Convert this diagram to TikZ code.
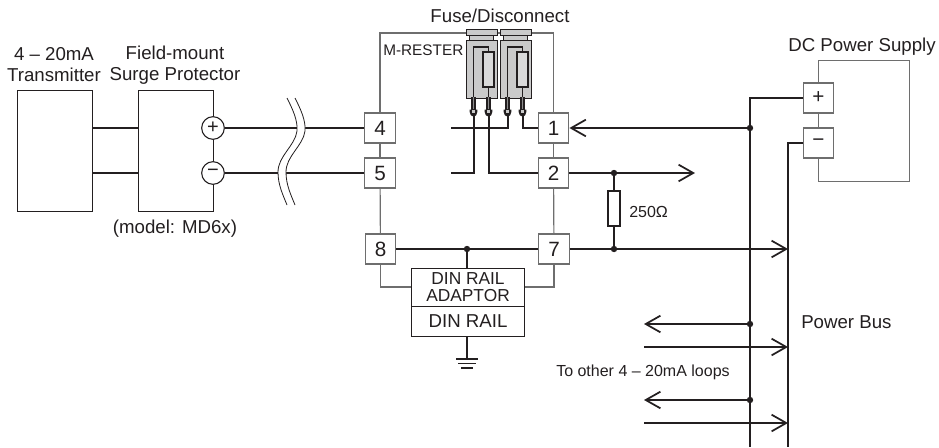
\documentclass[tikz,border=0pt]{standalone}
\usepackage{fontspec}
\setmainfont{Liberation Sans}
\usetikzlibrary{arrows.meta,positioning}
\definecolor{ink}{HTML}{231F20}
\definecolor{frame}{HTML}{6E6E6E}
\definecolor{fusegray}{HTML}{CACACA}
\tikzset{
  wire/.style={draw=ink,line width=1.5pt},
  graywire/.style={draw=frame,line width=.9pt},
  openarrow/.style={-{Straight Barb[length=11pt,width=12.5pt,line width=1.3pt]}},
  plainbox/.style={draw=ink,line width=.8pt,fill=white,inner sep=0pt,anchor=north west},
  term/.style={draw=frame,line width=.9pt,fill=white,inner sep=0pt,minimum width=23pt,minimum height=22.5pt,font=\fontsize{15.5}{16}\selectfont,text=ink},
  round term/.style={circle,draw=ink,line width=.8pt,fill=white,inner sep=0pt,minimum size=17pt,font=\fontsize{15}{15}\selectfont,text=ink},
  dot/.style={circle,fill=ink,inner sep=0pt,minimum size=4.8pt},
  lbl/.style={text=ink,inner sep=0pt,align=center,font=\fontsize{14}{15.8}\selectfont},
  small lbl/.style={text=ink,inner sep=0pt,font=\fontsize{12}{14}\selectfont},
  din lbl/.style={text=ink,inner sep=0pt,align=center,font=\fontsize{13}{12.75}\selectfont},
  fusepart/.style={draw=ink,line width=.7pt,fill=fusegray,inner sep=0pt},
  fuseinner/.style={draw=ink,line width=1.3pt,fill=fusegray!70,inner sep=0pt},
}
\begin{document}
\begin{tikzpicture}[x=.75pt,y=-.75pt]
\useasboundingbox (0,0) rectangle (939,447);
% boxes
\node[plainbox,minimum width=56.5pt,minimum height=90.75pt] (tx) at (17,90) {};
\node[plainbox,minimum width=56.5pt,minimum height=90.75pt] (sp) at (138,90) {};
\node[lbl] (txl) at (54,65) {4 – 20mA\\Transmitter};
\node[lbl] (spl) at (175,65) {Field-mount\\Surge Protector};
\node[lbl] (model) at (175,229) {(model: MD6x)};
\coordinate (txa) at (92.7,128); \coordinate (txb) at (92.7,173);
\coordinate (spa) at (138,128); \coordinate (spb) at (138,173);
\draw[wire] (txa) -- (spa);
\draw[wire] (txb) -- (spb);
\node[term] (t4) at (380,128) {4};
\node[term] (t5) at (380,173) {5};
\node[term] (t8) at (380.5,249) {8};
\node[term] (t7) at (554,249) {7};
\node[term] (t1) at (553.5,128) {1};
\node[term] (t2) at (553.5,173) {2};
\node[round term] (cp) at (213,128) {+};
\node[round term] (cm) at (213,173) {−};
% field wires
\draw[wire] (cp) -- (t4);
\draw[wire] (cm) -- (t5);
% cable break
\fill[white] (287,98) .. controls (292,108) and (298,120) .. (297,131) .. controls (295,146) and (278,156) .. (278,172) .. controls (278,185) and (283,195) .. (287,205) -- (295,205) .. controls (291,195) and (286,185) .. (286,172) .. controls (286,156) and (303,146) .. (305,131) .. controls (306,120) and (300,108) .. (295,98) -- cycle;
\draw[draw=ink,line width=.6pt] (287,98) .. controls (292,108) and (298,120) .. (297,131) .. controls (295,146) and (278,156) .. (278,172) .. controls (278,185) and (283,195) .. (287,205);
\draw[draw=ink,line width=.6pt] (295,98) .. controls (300,108) and (306,120) .. (305,131) .. controls (303,146) and (286,156) .. (286,172) .. controls (286,185) and (291,195) .. (295,205);
% din rail
\node[plainbox,minimum width=84.75pt,minimum height=28.5pt] (adapt) at (411,268) {};
\node[plainbox,minimum width=84.75pt,minimum height=22.5pt] (rail) at (411,306) {};
\node[din lbl] (adl) at (adapt.center) {DIN RAIL\\ADAPTOR};
\node[lbl] (rll) at (rail.center) {DIN RAIL};
% gray frame
\coordinate (ftl) at (380,33); \coordinate (ftr) at (553.5,33);
\draw[graywire] (t4.north) -- (ftl) -- (ftr) -- (t1.north);
\draw[graywire] (t4) -- (t5);
\draw[graywire] (t5) -- (t8);
\draw[graywire] (t1) -- (t2);
\draw[graywire] (t2) -- (t7);
\draw[graywire] (t8.south) |- (adapt.west |- 0,287);
\draw[graywire] (t7.south) |- (adapt.east |- 0,287);
\node[lbl,font=\fontsize{11.5}{12}\selectfont,anchor=west] (mr) at (383,50) {M-RESTER};
% fuses
\foreach \n/\x in {a/466,b/500}{
  \node[fusepart,minimum width=17.5pt,minimum height=3.5pt] (under\n) at (\x+15.5,38) {};
  \node[fusepart,minimum width=23.2pt,minimum height=5pt] (cap\n) at (\x+15.5,32.5) {};
  \node[fusepart,minimum width=23.2pt,minimum height=43.5pt,anchor=north west] (body\n) at (\x,39.5) {};
}
\foreach \n/\l/\r in {a/473.5/488.5,b/507.5/522.5}{
  \coordinate (\n L) at (\l,114);
  \coordinate (\n R) at (\r,114);
}
% control wires
\coordinate (w4l) at (451,128); \coordinate (w5l) at (451,173);
\draw[wire] (w5l) -| (aL);
\draw[wire] (aR) |- (t2);
\draw[wire] (w4l) -| (bL);
\draw[wire] (bR) |- (t1);
\foreach \n/\l/\r in {a/473.5/488.5,b/507.5/522.5}{
  \foreach \p in {\l,\r}{
    \draw[draw=ink,line width=3.6pt] (\p,97) -- (\p,111);
    \draw[draw=fusegray!70!black,line width=1.4pt] (\p,97) -- (\p,109);
    \fill[ink] (\p-3.8,109.5) -- (\p+3.8,109.5) -- (\p+3.8,112) .. controls (\p+3.8,118) and (\p-3.8,118) .. (\p-3.8,112) -- cycle;
    \fill[fusegray] (\p-1.2,110) rectangle (\p+1.2,113);
  }
  \draw[draw=ink,line width=1.3pt] (\l,97) -- (\l,47) -- (\r,47) -- (\r,52);
  \draw[draw=ink,line width=1.3pt] (\r,87) -- (\r,97);
  \node[fuseinner,minimum width=8.5pt,minimum height=26.2pt] (res\n) at (\r,69.5) {};
}
% right side
\node[dot] (d1) at (750,128) {};
\node[dot] (d2) at (614,173) {};
\node[dot] (d3) at (614,249) {};
\node[dot] (d4) at (467,249) {};
\node[dot] (d5) at (750,324) {};
\node[dot] (d6) at (750,400) {};
\coordinate (ta) at (695,173);
\draw[wire,openarrow] (d1) -- (t1.east);
\draw[wire,openarrow] (t2) -- (ta);
% DC supply
\node[plainbox,draw=frame,minimum width=68.25pt,minimum height=90.75pt,fill=none] (dc) at (818,60) {};
\node[term] (tp) at (818.5,98) {+};
\node[term] (tm) at (818.5,143) {−};
\coordinate (bt1) at (750,98); \coordinate (bb1) at (750,447);
\coordinate (bt2) at (788,143); \coordinate (bb2) at (788,447);
\draw[wire] (tp) -- (bt1) -- (bb1);
\draw[wire] (tm) -- (bt2) -- (bb2);
\coordinate (e7) at (788,249);
\draw[wire] (t8) -- (t7);
\draw[wire,openarrow] (t7) -- (e7);
\draw[wire] (d4) -- (adapt.north -| d4);
% resistor
\node[draw=ink,line width=1.3pt,fill=white,inner sep=0pt,minimum width=8.5pt,minimum height=26pt] (r250) at (614,208.5) {};
\draw[wire] (d2) -- (r250);
\draw[wire] (r250) -- (d3);
\node[small lbl,anchor=west] (rl) at (629,212) {250Ω};
% loops
\coordinate (l1) at (644,324); \coordinate (l2) at (644,347); \coordinate (l3) at (644,400); \coordinate (l4) at (644,423);
\coordinate (r2) at (788,347); \coordinate (r4) at (788,423);
\draw[wire,openarrow] (d5) -- (l1);
\draw[wire,openarrow] (l2) -- (r2);
\draw[wire,openarrow] (d6) -- (l3);
\draw[wire,openarrow] (l4) -- (r4);
\node[small lbl,anchor=west] (oth) at (556,372) {To other 4 – 20mA loops};
\node[lbl,anchor=west] (pb) at (801,322) {Power Bus};
% ground
\coordinate (g0) at (467,359);
\coordinate (g1l) at (456,359); \coordinate (g1r) at (478,359);
\coordinate (g2l) at (458,363.5); \coordinate (g2r) at (476,363.5);
\coordinate (g3l) at (461,368); \coordinate (g3r) at (473,368);
\draw[wire,line width=1.2pt] (rail.south -| g0) -- (g0);
\draw[wire,line width=1.2pt] (g1l) -- (g1r);
\draw[wire,line width=1.1pt] (g2l) -- (g2r);
\draw[wire,line width=1.2pt] (g3l) -- (g3r);
\node[lbl] (dcl) at (862,47) {DC Power Supply};
\node[lbl] (fl) at (500,16) {Fuse/Disconnect};
\end{tikzpicture}
\end{document}
